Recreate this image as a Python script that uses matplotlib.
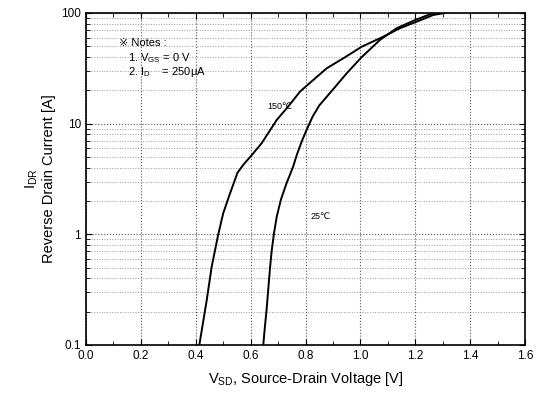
import numpy as np
import matplotlib
matplotlib.use('Agg')
import matplotlib.pyplot as plt
from matplotlib.ticker import MultipleLocator, LogLocator, NullFormatter, FixedLocator

plt.rcParams['font.family'] = ['Liberation Sans', 'DejaVu Sans']
plt.rcParams['mathtext.default'] = 'regular'

# 150 C curve
v150 = [0.413, 0.44, 0.458, 0.482, 0.50, 0.525, 0.552, 0.575, 0.604, 0.64, 0.695,
        0.737, 0.756, 0.78, 0.828, 0.877, 0.938, 1.005, 1.083, 1.144, 1.205, 1.266, 1.308]
i150 = [0.1, 0.255, 0.51, 1.0, 1.55, 2.35, 3.6, 4.3, 5.2, 6.65, 10.8,
        14.3, 16.4, 19.5, 24.8, 31.6, 39.0, 49.6, 61.0, 72.8, 83.5, 96.0, 100.0]

# 25 C curve
v25 = [0.646, 0.652, 0.658, 0.664, 0.671, 0.677, 0.685, 0.695, 0.710, 0.731, 0.755,
       0.768, 0.786, 0.804, 0.826, 0.850, 0.901, 0.95, 1.005, 1.071, 1.132, 1.20, 1.266]
i25 = [0.1, 0.147, 0.207, 0.315, 0.51, 0.72, 1.02, 1.44, 2.05, 2.9, 4.1,
       5.2, 6.9, 8.8, 11.6, 14.6, 20.5, 28.5, 40.0, 57.0, 72.8, 86.5, 100.0]

xticks = [0.0, 0.2, 0.4, 0.6, 0.8, 1.0, 1.2, 1.4, 1.6]
yticks = [0.1, 1, 10, 100]
ylabels = ['0.1', '1', '10', '100']

fig = plt.figure(figsize=(5.42, 3.96), dpi=100)
ax = fig.add_axes([0.1587, 0.1288, 0.81, 0.8384])

ax.plot(v150, i150, color='black', lw=1.4)
ax.plot(v25, i25, color='black', lw=1.4)

ax.set_yscale('log')
ax.set_xlim(0, 1.6)
ax.set_ylim(0.1, 100)
ax.set_xticks(xticks)
ax.set_xticklabels(['%.1f' % t for t in xticks])
ax.xaxis.set_minor_locator(MultipleLocator(0.1))
ax.yaxis.set_major_locator(FixedLocator(yticks))
ax.set_yticklabels(ylabels)
ax.yaxis.set_minor_locator(LogLocator(base=10, subs=np.arange(2, 10)))
ax.yaxis.set_minor_formatter(NullFormatter())

ax.tick_params(which='both', direction='in', top=True, right=True, labelsize=8.5)
ax.tick_params(which='major', length=4)
ax.tick_params(which='minor', length=3)

ax.grid(True, which='major', axis='both', color='#555555', ls=':', lw=0.8)
ax.grid(True, which='minor', axis='y', color='#999999', ls=':', lw=0.7)

for s in ax.spines.values():
    s.set_linewidth(1.2)

ax.set_xlabel('V$_{SD}$, Source-Drain Voltage [V]', fontsize=10.5, labelpad=6)
ax.set_ylabel('I$_{DR}$\nReverse Drain Current [A]', fontsize=10.5, labelpad=4)

ax.text(0.075, 0.91, '\u203b Notes :', transform=ax.transAxes, fontsize=8, va='center')
ax.text(0.096, 0.864, '1. V$_{GS}$ = 0 V', transform=ax.transAxes, fontsize=8, va='center')
ax.text(0.096, 0.822, '2. I$_{D}$    = 250\u03bcA', transform=ax.transAxes, fontsize=8, va='center')
ax.text(0.66, 14.2, '150\u2103', fontsize=6.5, va='center')
ax.text(0.818, 1.45, '25\u2103', fontsize=6.5, va='center')

fig.savefig('out.png', dpi=100)
